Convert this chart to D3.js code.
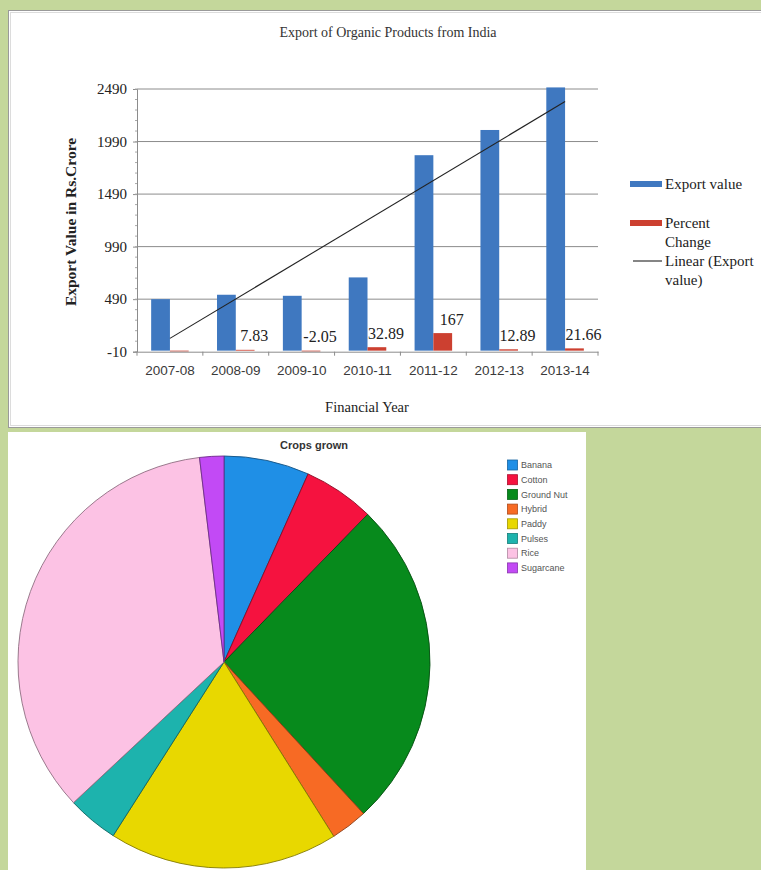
<!DOCTYPE html>
<html><head><meta charset="utf-8">
<script src="https://cdn.jsdelivr.net/npm/d3@7"></script>
<style>html,body{margin:0;padding:0;background:#c4d79b;overflow:hidden}svg{display:block}</style>
</head><body>
<svg id="c" width="761" height="870"></svg>
<script>
// ---- Data: export chart ----
const years = ["2007-08","2008-09","2009-10","2010-11","2011-12","2012-13","2013-14"];
const exportValue = [490, 532, 522, 697, 1860, 2100, 2505];
const percentChange = [0, 7.83, -2.05, 32.89, 167, 12.89, 21.66];
const percentLabels = [null, "7.83", "-2.05", "32.89", "167", "12.89", "21.66"];
const yTicks = [-10, 490, 990, 1490, 1990, 2490];
const legendItems = ["Export value", "Percent|Change", "Linear (Export|value)"];

// ---- Data: pie chart ----
const crops = ["Banana","Cotton","Ground Nut","Hybrid","Paddy","Pulses","Rice","Sugarcane"];
const cropShare = [6.7, 5.6, 25.9, 2.9, 18.0, 4.0, 35.1, 1.9];
const cropColors = ["#1f8fe6","#f5123f","#078a1c","#f76a24","#e8d800","#1db3ad","#fcc2e4","#c24af5"];

const svg = d3.select("#c");

// panels
svg.append("rect").attr("x",8.5).attr("y",10.5).attr("width",770).attr("height",417)
  .attr("fill","#fff").attr("stroke","#9a9a9a").attr("stroke-width",1);
svg.append("rect").attr("x",10.5).attr("y",12.5).attr("width",770).attr("height",413)
  .attr("fill","none").attr("stroke","#dcdcdc").attr("stroke-width",1);
svg.append("rect").attr("x",8).attr("y",432).attr("width",578).attr("height",440).attr("fill","#fff");

// ---- Bar chart ----
const plot = {l:137, r:598, t:89, b:351.7};
const x = d3.scaleBand().domain(years).range([plot.l, plot.r]).padding(0);
const y = d3.scaleLinear().domain([-10, 2490]).range([plot.b, plot.t]);
const bw = x.bandwidth()*0.285;
const serif = "'Liberation Serif','Times New Roman',serif";
const sans = "'Liberation Sans',Arial,sans-serif";

const g = svg.append("g");
// gridlines
g.selectAll("line.grid").data(yTicks.slice(1)).join("line")
  .attr("x1",plot.l).attr("x2",plot.r).attr("y1",d=>y(d)).attr("y2",d=>y(d))
  .attr("stroke","#8c8c8c").attr("stroke-width",1);

// y axis
const yAxis = d3.axisLeft(y).tickValues(yTicks).tickSize(4).tickFormat(d=>String(d));
const ya = g.append("g").attr("transform",`translate(${plot.l},0)`).call(yAxis);
ya.select(".domain").attr("stroke","#8c8c8c");
ya.selectAll(".tick line").attr("stroke","#8c8c8c");
ya.selectAll(".tick text").attr("font-family",serif).attr("font-size",15).attr("fill","#222").attr("x",-10);
// minor ticks
const minor = d3.range(-10, 2491, 100);
g.selectAll("line.minor").data(minor).join("line")
  .attr("x1",plot.l-2).attr("x2",plot.l).attr("y1",d=>y(d)).attr("y2",d=>y(d))
  .attr("stroke","#aaa");

// bars
g.selectAll("rect.exp").data(exportValue).join("rect")
  .attr("x",(d,i)=>x(years[i])+x.bandwidth()/2-bw).attr("width",bw)
  .attr("y",d=>y(d)).attr("height",d=>y(0)-y(d)).attr("fill","#3f78c0");
g.selectAll("rect.pct").data(percentChange).join("rect")
  .attr("x",(d,i)=>x(years[i])+x.bandwidth()/2).attr("width",bw)
  .attr("y",d=>y(Math.max(0,d))).attr("height",d=>Math.max(0.8,Math.abs(y(0)-y(d)))).attr("fill","#cc4030");

// x axis
const xa = g.append("g").attr("transform",`translate(0,${plot.b})`)
  .call(d3.axisBottom(x).tickSize(0).tickPadding(14));
xa.select(".domain").attr("stroke","#8c8c8c");
xa.selectAll(".tick text").attr("font-family",sans).attr("font-size",13.5).attr("fill","#3a3a3a");
g.selectAll("line.xt").data(years.map(d=>x(d)).concat([plot.r])).join("line")
  .attr("x1",d=>d).attr("x2",d=>d).attr("y1",plot.b).attr("y2",plot.b+4).attr("stroke","#8c8c8c");

// trend line (least squares on export values)
const n = exportValue.length;
const xs = d3.range(1,n+1);
const mx = d3.mean(xs), my = d3.mean(exportValue);
const slope = d3.sum(xs.map((v,i)=>(v-mx)*(exportValue[i]-my)))/d3.sum(xs.map(v=>(v-mx)**2));
const icpt = my - slope*mx;
g.append("line")
  .attr("x1",x(years[0])+x.bandwidth()/2).attr("y1",y(icpt+slope*1))
  .attr("x2",x(years[n-1])+x.bandwidth()/2).attr("y2",y(icpt+slope*n))
  .attr("stroke","#222").attr("stroke-width",1.1);

// data labels
const lblData = percentChange.map((v,i)=>({v, year:years[i], label:percentLabels[i]})).filter(d=>d.label!==null);
g.selectAll("text.lbl").data(lblData).join("text")
  .attr("x",d=>x(d.year)+x.bandwidth()/2+bw/2+9)
  .attr("y",d=>y(Math.max(0,d.v))-14)
  .attr("dy","0.35em").attr("text-anchor","middle")
  .attr("font-family",serif).attr("font-size",16).attr("fill","#222")
  .text(d=>d.label);

// titles
svg.append("text").attr("x",388).attr("y",37).attr("text-anchor","middle")
  .attr("font-family",serif).attr("font-size",14).attr("fill","#333")
  .text("Export of Organic Products from India");
svg.append("text").attr("transform",`translate(76,222) rotate(-90)`).attr("text-anchor","middle")
  .attr("font-family",serif).attr("font-size",15.5).attr("font-weight","bold").attr("fill","#222")
  .text("Export Value in Rs.Crore");
svg.append("text").attr("x",367).attr("y",412).attr("text-anchor","middle")
  .attr("font-family",serif).attr("font-size",14.5).attr("fill","#222")
  .text("Financial Year");

// legend (bar chart)
const lg = svg.append("g").attr("font-family",serif).attr("font-size",15).attr("fill","#222");
const legY = [184, 223, 261];
legendItems.forEach((t,i)=>{
  if(i===0) lg.append("rect").attr("x",630).attr("y",legY[i]-3).attr("width",32).attr("height",6).attr("fill","#3f78c0");
  if(i===1) lg.append("rect").attr("x",630).attr("y",legY[i]-3).attr("width",32).attr("height",6).attr("fill","#cc4030");
  if(i===2) lg.append("line").attr("x1",633).attr("x2",662).attr("y1",legY[i]).attr("y2",legY[i]).attr("stroke","#222").attr("stroke-width",1.1);
  const tx = lg.append("text").attr("x",665).attr("y",legY[i]).attr("dy","0.35em");
  t.split("|").forEach((s,j)=>tx.append("tspan").attr("x",665).attr("dy",j===0?"0.35em":"19").text(s));
});

// ---- Pie chart ----
const pcx = 224, pcy = 662, pr = 206;
const pie = d3.pie().sort(null).value(d=>d)(cropShare);
const arc = d3.arc().innerRadius(0).outerRadius(pr);
const pg = svg.append("g").attr("transform",`translate(${pcx},${pcy})`);
pg.selectAll("path").data(pie).join("path")
  .attr("d",arc).attr("fill",(d,i)=>cropColors[i])
  .attr("stroke",(d,i)=>d3.color(cropColors[i]).darker(1.6)).attr("stroke-width",0.9);

svg.append("text").attr("x",314).attr("y",449).attr("text-anchor","middle")
  .attr("font-family",sans).attr("font-size",11).attr("font-weight","bold").attr("fill","#333")
  .text("Crops grown");

const pl = svg.append("g").attr("font-family",sans).attr("font-size",9).attr("fill","#555");
crops.forEach((c,i)=>{
  const yy = 465 + i*14.7;
  pl.append("rect").attr("x",507.5).attr("y",yy-5).attr("width",10).attr("height",10)
    .attr("fill",cropColors[i]).attr("stroke",d3.color(cropColors[i]).darker(1)).attr("stroke-width",0.8);
  pl.append("text").attr("x",521).attr("y",yy).attr("dy","0.35em").text(c);
});
</script>
</body></html>
